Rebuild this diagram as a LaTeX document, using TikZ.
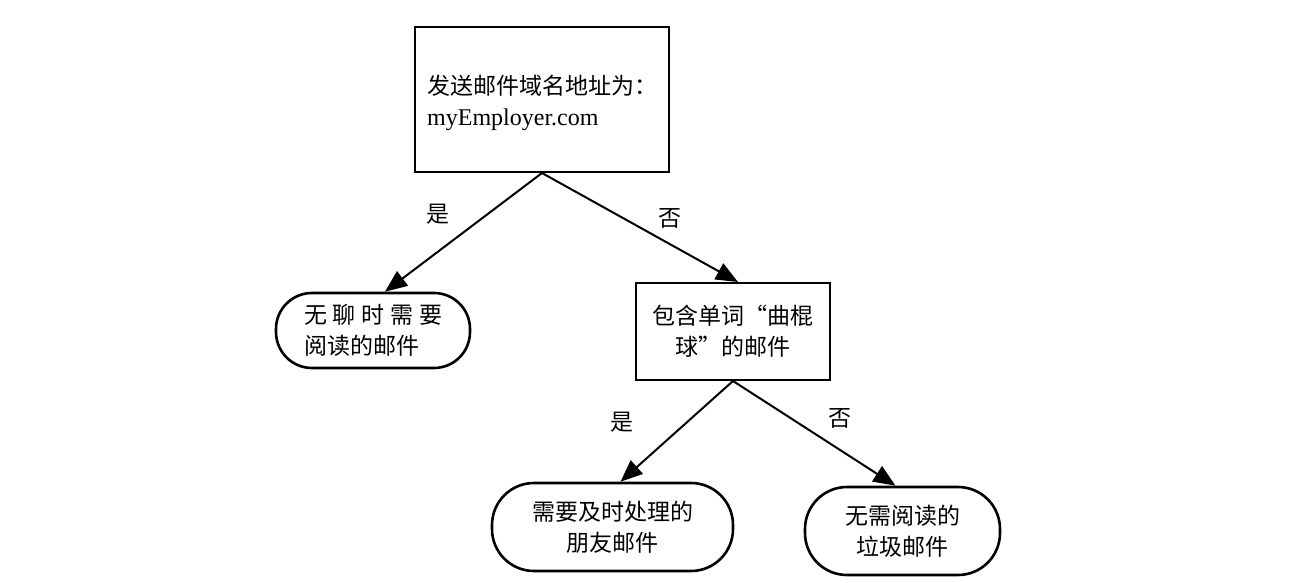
\documentclass[tikz,border=0pt]{standalone}
\usepackage{fontspec}
\setmainfont{Liberation Serif}
\newfontfamily\cjk{Noto Sans CJK SC}
\usetikzlibrary{arrows.meta,calc}
\begin{document}
\begin{tikzpicture}[x=1pt,y=-1pt,
  every node/.style={font=\fontsize{23}{31}\selectfont\cjk},
  sqbox/.style={draw,line width=2pt,inner sep=0pt},
  pill/.style={draw,line width=2.6pt,rounded corners=36pt,inner sep=0pt},
  edge/.style={line width=2pt,-{Triangle[length=22pt,width=18pt]}},
  lbl/.style={inner sep=0pt}]
\useasboundingbox (0,0) rectangle (1301,583);
\node[sqbox,minimum width=254pt,minimum height=145pt] (root) at (542,99.5) {};
\node[inner sep=0pt,anchor=west,align=left] (roottxt) at (427,103)
  {发送邮件域名地址为：\\{\rmfamily\fontsize{24}{31}\selectfont myEmployer.com}};
\node[pill,minimum width=194pt,minimum height=75pt,align=left] (left) at (373,330.5)
  {\makebox[138pt][s]{无\hfill 聊\hfill 时\hfill 需\hfill 要}\\阅读的邮件\hspace{23pt}};
\node[sqbox,minimum width=194pt,minimum height=97pt,align=center] (mid) at (733,331.5)
  {包含单词“曲棍\\球”的邮件};
\node[pill,minimum width=241pt,minimum height=88pt,rounded corners=42pt,align=center] (bl) at (612.5,527)
  {需要及时处理的\\朋友邮件};
\node[pill,minimum width=195pt,minimum height=88pt,rounded corners=42pt,align=center] (br) at (902.5,531)
  {无需阅读的\\垃圾邮件};
\draw[edge] (root.south) -- ($(left.north)+(12,0)$);
\draw[edge] (root.south) -- ($(mid.north)+(5,0)$);
\draw[edge] (mid.south) -- ($(bl.north)+(8,0)$);
\draw[edge] (mid.south) -- ($(br.north)+(-7,0)$);
\node[lbl] (l1) at (438,214) {是};
\node[lbl] (l2) at (670,218) {否};
\node[lbl] (l3) at (622,422) {是};
\node[lbl] (l4) at (840,418) {否};
\end{tikzpicture}
\end{document}
